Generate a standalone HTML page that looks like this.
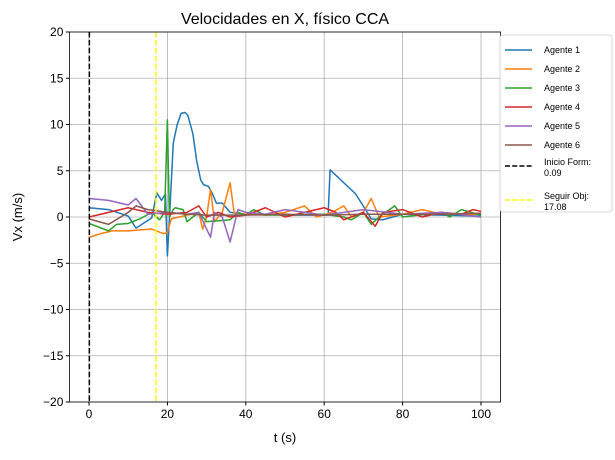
<!DOCTYPE html>
<html><head><meta charset="utf-8"><style>body{margin:0;background:#fff}svg{font-family:"Liberation Sans","DejaVu Sans",sans-serif}</style></head>
<body>
<svg id="c" width="615" height="455" viewBox="0 0 615 455"></svg>
<script>
const seriesNames=["Agente 1","Agente 2","Agente 3","Agente 4","Agente 5","Agente 6"];
const colors=["#1f77b4","#ff7f0e","#2ca02c","#d62728","#9467bd","#8c564b"];
const agent1=[[0,1],[5,0.8],[10,0.1],[12,-1.2],[16,-0.1],[17.3,2.6],[18.5,1.8],[19.5,2.5],[20,-4.2],[20.6,0.5],[21.5,8],[22.5,10],[23.5,11.2],[24.5,11.3],[25.2,11],[26.5,9],[27.5,6],[28.5,4],[29.2,3.5],[30.5,3.3],[31.5,2.5],[32.5,1.5],[34,1.5],[36,0.5],[40,0.3],[50,0.2],[61,0.2],[61.5,5.1],[68,2.5],[71,0.5],[72,-0.2],[75,-0.3],[80,0.3],[90,0.2],[100,0.1]];
const agent2=[[0,-2.2],[3,-1.8],[6,-1.5],[10,-1.5],[16,-1.3],[19,-1.8],[20,-1.7],[21,-0.2],[25,0.2],[28,0.5],[29,-1.3],[30,0],[31,3],[32,-0.5],[34,0.5],[36,3.7],[37,0.5],[40,0.3],[45,0.2],[50,0.5],[55,1.2],[58,0],[62,0.5],[65,1.2],[67,0],[70,0.5],[72,2],[74,0],[80,0.3],[85,0.8],[90,0.3],[100,0.3]];
const agent3=[[0,-0.7],[5,-1.5],[7,-0.8],[10,-0.7],[13,-0.2],[16,0.5],[18,-0.3],[19.3,0.5],[20,10.5],[20.5,0],[21.5,0.8],[22,1],[24,0.8],[25,-0.5],[28,0.5],[30,-0.5],[33,-0.4],[36,-0.3],[38,0.5],[40,0.2],[42,0.8],[45,0.2],[60,0.3],[65,0],[67,-0.3],[70,0.5],[72,-0.8],[74,0],[78,1.2],[80,0],[90,0.5],[92,0],[95,0.8],[100,0.2]];
const agent4=[[0,0],[5,0.5],[10,1],[15,0.5],[20,0.3],[25,0.5],[28,1.2],[30,0],[33,0.5],[36,0],[40,0.2],[45,1],[50,0],[55,0.5],[60,1],[63,0.5],[65,-0.3],[70,0.5],[73,-1],[75,0.5],[80,0.8],[85,0],[90,0.5],[95,0.3],[98,0.8],[100,0.6]];
const agent5=[[0,2],[5,1.8],[10,1.3],[12,2],[15,0.3],[20,0.5],[25,0.3],[28,0.5],[31,-2.2],[32,0.5],[34,0],[36,-2.7],[38,0.8],[40,0.5],[45,0.3],[50,0.8],[60,0.2],[70,0.8],[80,0.3],[90,0.5],[100,0]];
const agent6=[[0,-0.2],[5,-0.8],[10,0.5],[12,1.2],[15,0.8],[20,0.5],[25,0.3],[30,0.2],[40,0.2],[50,0.3],[60,0.2],[70,0.3],[80,0.3],[90,0.3],[100,0.4]];
const allSeries=[agent1,agent2,agent3,agent4,agent5,agent6];
const xTicks=[0,20,40,60,80,100];
const yTicks=[-20,-15,-10,-5,0,5,10,15,20];
const vlines=[0.09,17.08];
const vlineColors=["#000","#ffff00"];
const L=69.4,R=500.6,T=32,B=402;
const xs=t=>L+(t+5)/110*(R-L), ys=v=>B-(v+20)/40*(B-T);
const svg=document.getElementById('c');const NS="http://www.w3.org/2000/svg";
function mk(tag,attrs,parent){const e=document.createElementNS(NS,tag);for(const k in attrs)e.setAttribute(k,attrs[k]);(parent||svg).appendChild(e);return e;}
const grid=mk('g',{});


xTicks.forEach(t=>{mk('line',{x1:xs(t),x2:xs(t),y1:T,y2:B,stroke:'#b0b0b0','stroke-width':0.8},grid);mk('line',{x1:xs(t),x2:xs(t),y1:B,y2:B+3.5,stroke:'#000'});const tx=mk('text',{x:xs(t),y:B+16,'text-anchor':'middle','font-size':12});tx.textContent=t;});
yTicks.forEach(v=>{mk('line',{x1:L,x2:R,y1:ys(v),y2:ys(v),stroke:'#b0b0b0','stroke-width':0.8},grid);mk('line',{x1:L-3.5,x2:L,y1:ys(v),y2:ys(v),stroke:'#000'});const tx=mk('text',{x:L-6,y:ys(v)+4,'text-anchor':'end','font-size':12});tx.textContent=v<0?'\u2212'+(-v):v;});
allSeries.forEach((s,i)=>{const p=mk('polyline',{points:s.map(d=>xs(d[0])+','+ys(d[1])).join(' '),fill:'none',stroke:colors[i],'stroke-width':1.5,'stroke-linejoin':'round'});});
vlines.forEach((t,i)=>{const l=mk('line',{x1:xs(t),x2:xs(t),y1:T,y2:B,stroke:vlineColors[i],'stroke-width':1.5,'stroke-dasharray':'5.5,2.4'});});
const fr=mk('rect',{x:L,y:T,width:R-L,height:B-T,fill:'none',stroke:'#000','stroke-width':0.8});

const ti=mk('text',{x:(L+R)/2,y:24,'text-anchor':'middle','font-size':16});ti.textContent='Velocidades en X, físico CCA';

const xl=mk('text',{x:(L+R)/2,y:442,'text-anchor':'middle','font-size':13});xl.textContent='t (s)';

const yl=mk('text',{x:0,y:0,'text-anchor':'middle','font-size':13,transform:'translate(22,217) rotate(-90)'});yl.textContent='Vx (m/s)';

const lg=mk('g',{});

mk('rect',{x:500,y:35,width:112,height:177,rx:3,fill:'#fff',stroke:'#ccc','stroke-width':0.8},lg);
const labels=seriesNames.concat([['Inicio Form:','0.09'],['Seguir Obj:','17.08']]);
const lcol=colors.concat(vlineColors);
const ly=[50,69,88,107,126,145,166,200];
labels.forEach((lab,i)=>{const g=mk('g',{},lg);
mk('line',{x1:505,x2:532,y1:ly[i],y2:ly[i],stroke:lcol[i],'stroke-width':1.5,'stroke-dasharray':i>5?'5,2.2':'none'},g);
if(Array.isArray(lab)){const a=mk('text',{x:544,y:ly[i]-1,'font-size':9},g);a.textContent=lab[0];const b=mk('text',{x:544,y:ly[i]+10,'font-size':9},g);b.textContent=lab[1];}
else{const a=mk('text',{x:544,y:ly[i]+3,'font-size':9},g);a.textContent=lab;}});
</script>
</body></html>
